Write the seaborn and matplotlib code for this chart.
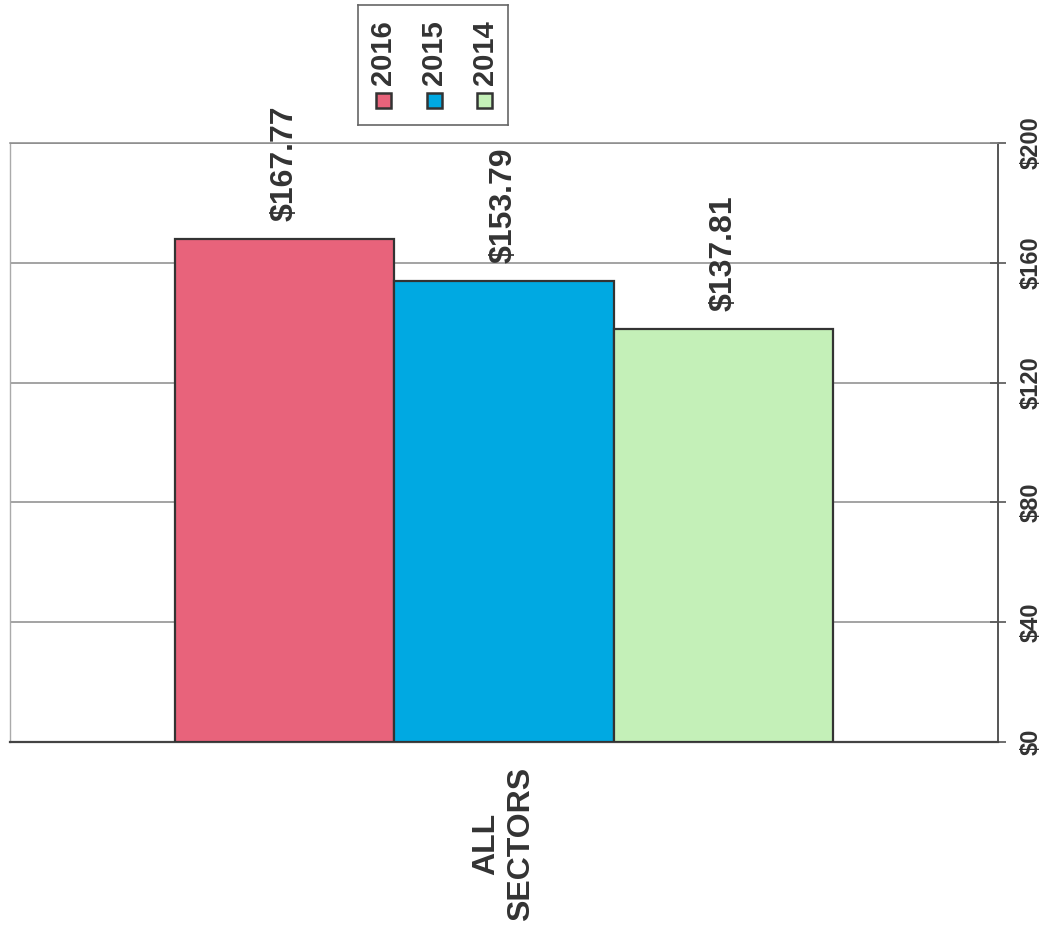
import pandas as pd
import matplotlib
matplotlib.use("Agg")
import matplotlib.pyplot as plt
import seaborn as sns
from matplotlib.patches import Rectangle

# data
sectors = ['ALL\nSECTORS']
years = ['2016', '2015', '2014']
values = [167.77, 153.79, 137.81]
colors = ['#E8637B', '#00A9E2', '#C4F0B8']
yticks = [0, 40, 80, 120, 160, 200]

df = pd.DataFrame({'sector': sectors * len(years), 'year': years, 'value': values})

sns.set_style('white')
plt.rcParams['font.family'] = ['Liberation Sans', 'DejaVu Sans']
plt.rcParams['font.weight'] = 'bold'
ink = '#333333'

fig = plt.figure(figsize=(10.48, 9.32), dpi=100)
ax = fig.add_axes([0.0095, 0.2039, 0.9427, 0.6427])

sns.barplot(data=df, x='sector', y='value', hue='year', hue_order=years,
            palette=colors, saturation=1, width=1.0, edgecolor=ink, linewidth=1.6,
            legend=False, ax=ax, zorder=3)

for cont, v in zip(ax.containers, values):
    ax.bar_label(cont, labels=[f'${v:.2f}'], rotation=90, padding=13,
                 fontsize=23, fontweight='bold', color=ink)

ax.set_xlim(-0.75, 0.75)
ax.set_ylim(0, 200)
ax.set_xlabel('')
ax.set_ylabel('')

# y axis on the right, labels turned like the scan
ax.yaxis.tick_right()
ax.set_yticks(yticks)
ax.set_yticklabels([f'${t}' for t in yticks], rotation=90, va='center', ha='left',
                   fontsize=17, fontweight='bold', color=ink)
ax.tick_params(axis='y', direction='inout', length=12, width=1.2, color='#555555', pad=10, right=True)
ax.grid(axis='y', color='#8a8a8a', linewidth=1.1, zorder=0)
ax.set_axisbelow(True)

ax.set_xticks([0])
ax.set_xticklabels(sectors, rotation=90, fontsize=23, fontweight='bold', color=ink,
                   multialignment='center', va='top', ha='center')
ax.tick_params(axis='x', length=0, pad=18)
ax.set_xticks([-0.75, 0.75], minor=True)
ax.tick_params(axis='x', which='minor', length=9, width=1, color='#888888', direction='out')

for side, col, lw in [('left', '#aaaaaa', 1.0), ('top', '#8a8a8a', 1.1),
                      ('right', '#555555', 1.4), ('bottom', '#444444', 1.6)]:
    ax.spines[side].set_visible(True)
    ax.spines[side].set_color(col)
    ax.spines[side].set_linewidth(lw)

# legend box with turned text, drawn by hand
lax = fig.add_axes([0.3416, 0.8659, 0.1431, 0.1287])
lax.set_xlim(0, 1)
lax.set_ylim(0, 1)
lax.set_xticks([])
lax.set_yticks([])
for s in lax.spines.values():
    s.set_color('#666666')
    s.set_linewidth(1.2)
xs = [0.17, 0.51, 0.845]
for xc, yr, c in zip(xs, years, colors):
    lax.add_patch(Rectangle((xc - 0.05, 0.14), 0.10, 0.125, facecolor=c,
                            edgecolor=ink, linewidth=1.8))
    lax.text(xc, 0.33, yr, rotation=90, ha='center', va='bottom',
             fontsize=21, fontweight='bold', color=ink)

fig.savefig('out.png', dpi=100)
